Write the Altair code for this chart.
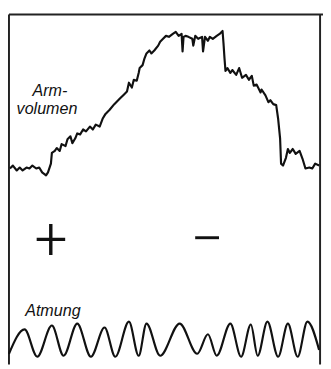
import altair as alt
import pandas as pd

# Arm volume trace (time position, vertical reading; reading units, y grows downward)
arm_t = [10, 13, 17, 20, 23, 27, 30, 33, 37, 40, 43, 47, 49, 52, 53, 56, 58, 61, 63, 67,
         69, 72, 74, 77, 79, 82, 85, 88, 92, 95, 98, 102, 105, 108, 112, 117, 120, 123, 127, 130,
         132, 135, 137, 140, 142, 143, 146, 148, 150, 153, 155, 158, 162, 164, 167, 170, 173, 177, 180, 183,
         186, 187, 188, 190, 193, 197, 198, 200, 203, 207, 208, 210, 213, 215, 218, 222, 225, 228, 229, 230,
         231, 233, 236, 238, 242, 245, 248, 252, 255, 258, 260, 263, 267, 268, 272, 275, 277, 280, 283, 285,
         287, 288, 290, 293, 295, 297, 300, 303, 307, 310, 313, 317, 320, 323, 327]
arm_v = [168, 165, 170, 167, 170, 167, 168, 165, 168, 167, 172, 175, 172, 163, 152, 150, 147, 150, 143, 145,
         138, 135, 142, 137, 132, 133, 128, 130, 125, 128, 123, 125, 117, 112, 108, 102, 99, 96, 92, 89,
         80, 85, 77, 78, 70, 65, 62, 55, 50, 47, 50, 47, 42, 38, 35, 32, 33, 30, 28, 32,
         30, 48, 33, 32, 33, 35, 42, 32, 35, 33, 48, 33, 37, 33, 35, 32, 30, 27, 40, 55,
         68, 65, 70, 67, 72, 65, 75, 72, 77, 73, 83, 82, 90, 87, 93, 100, 98, 102, 103, 117,
         137, 163, 165, 157, 148, 152, 148, 153, 150, 158, 168, 167, 168, 163, 165]

# Respiration trace (peaks and troughs)
resp_t = [9, 25, 38, 53, 65, 79, 93, 107, 118, 132, 142, 150, 164, 184, 202, 213, 222, 236, 247,
          257, 264, 274, 285, 295, 305, 315, 327]
resp_v = [358, 333, 361, 329, 360, 327, 361, 331, 361, 325, 360, 327, 360, 327, 358, 338, 360, 327, 361,
          328, 360, 325, 361, 327, 361, 325, 354]

# Labels
label_text = ["Arm-", "volumen", "Atmung"]
label_t = [51, 48, 54]
label_v = [94, 112, 319]

sign_text = ["+", "\u2212"]
sign_t = [52, 212]
sign_v = [243, 243]

xs = alt.Scale(domain=[8, 331])
ys = alt.Scale(domain=[8, 369], reverse=True)

arm = pd.DataFrame({"t": arm_t, "v": arm_v})
resp = pd.DataFrame({"t": resp_t, "v": resp_v})
labels = pd.DataFrame({"t": label_t, "v": label_v, "s": label_text})
signs = pd.DataFrame({"t": sign_t, "v": sign_v, "s": sign_text})

frame_v = pd.DataFrame({"t": [9, 328], "v": [10, 10], "v2": [369, 369]})
frame_h = pd.DataFrame({"t": [9], "t2": [331], "v": [10]})

X = lambda f: alt.X(f, type="quantitative", scale=xs, axis=None)
Y = lambda f: alt.Y(f, type="quantitative", scale=ys, axis=None)

arm_line = alt.Chart(arm).mark_line(color="#111", strokeWidth=2.2, strokeJoin="round").encode(
    x=X("t"), y=Y("v"))
resp_line = alt.Chart(resp).mark_line(color="#111", strokeWidth=2.2, interpolate="monotone").encode(
    x=X("t"), y=Y("v"))
vrules = alt.Chart(frame_v).mark_rule(color="#222", strokeWidth=2).encode(
    x=X("t"), y=Y("v"), y2="v2")
hrule = alt.Chart(frame_h).mark_rule(color="#222", strokeWidth=2).encode(
    x=X("t"), x2="t2", y=Y("v"))
label_layer = alt.Chart(labels).mark_text(
    font="Liberation Sans", fontSize=16.5, fontStyle="italic", color="#111",
    align="center", baseline="alphabetic").encode(x=X("t"), y=Y("v"), text="s")
sign_layer = alt.Chart(signs).mark_text(
    font="Roboto", fontSize=60, fontWeight=300, color="#111",
    align="center", baseline="middle").encode(x=X("t"), y=Y("v"), text="s")

chart = alt.layer(vrules, hrule, arm_line, resp_line, label_layer, sign_layer).properties(
    width=323, height=361, padding=0, autosize=alt.AutoSizeParams(type="none"),
    background="white"
).configure_view(stroke=None)

chart.save("out.html", embed_options={"renderer": "svg", "actions": False})
